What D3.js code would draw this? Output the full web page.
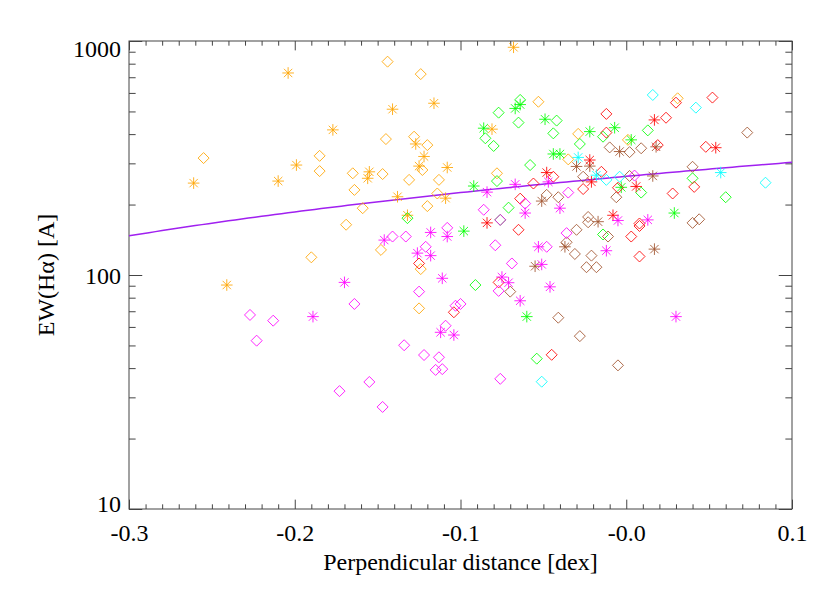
<!DOCTYPE html>
<meta charset="utf-8">
<style>
    body { margin: 0; background: #fff; }
    svg text { font-family: "Liberation Serif", "DejaVu Serif", serif; fill: #000; }
    .ax line { stroke: #444; }
    .ax path { display: none; }
</style>
<svg width="830" height="593"></svg>
<script src="https://cdn.jsdelivr.net/npm/d3@7"></script>
<script>

    // tick labels
    var xTickValues = [-0.3, -0.2, -0.1, 0.0, 0.1];
    var xTickLabels = ["-0.3", "-0.2", "-0.1", "-0.0", "0.1"];
    var yTickValues = [10, 100, 1000];
    var yTickLabels = ["10", "100", "1000"];

    // linear fit EW = a + b * dist
    var fitCoef = [264, 390];

    // [distance, EW] per sample
    var orangeStar = [[-0.204, 730], [-0.177, 417], [-0.199, 295], [-0.261, 247], [-0.210, 252], [-0.241, 90.6],
        [-0.068, 940], [-0.141, 511], [-0.116, 542], [-0.127, 363], [-0.122, 321], [-0.125, 292], [-0.108, 288],
        [-0.155, 276], [-0.156, 259], [-0.138, 216], [-0.109, 213], [-0.132, 180], [-0.081, 420]];
    var orangeDiam = [[-0.255, 316], [-0.185, 323], [-0.185, 278], [-0.165, 272], [-0.169, 164], [-0.190, 119],
        [-0.144, 816], [-0.124, 722], [-0.145, 381], [-0.128, 390], [-0.120, 359], [-0.123, 281], [-0.147, 270],
        [-0.164, 231], [-0.131, 255], [-0.113, 255], [-0.114, 223], [-0.159, 193], [-0.120, 197], [-0.148, 128],
        [-0.124, 106], [-0.125, 72], [-0.078, 272], [-0.053, 550], [-0.035, 312], [-0.029, 401], [0.001, 378],
        [0.031, 569]];
    var greenStar = [[-0.067, 515], [-0.064, 535], [-0.049, 463], [-0.086, 424], [-0.044, 329], [-0.040, 329],
        [-0.092, 240], [-0.098, 154], [-0.060, 66.4], [-0.022, 410], [-0.007, 426], [0.003, 378], [-0.003, 237],
        [0.029, 184]];
    var greenDiam = [[-0.064, 560], [-0.077, 494], [-0.065, 448], [-0.042, 457], [-0.044, 403], [-0.085, 384],
        [-0.080, 356], [-0.058, 295], [-0.078, 252], [-0.071, 194], [-0.076, 172], [-0.132, 175], [-0.091, 90.6],
        [-0.054, 43.9], [-0.014, 390], [-0.028, 363], [0.013, 415], [0.009, 225], [0.040, 259], [0.060, 215],
        [-0.014, 149]];
    var redStar = [[-0.048, 274], [-0.084, 167], [0.017, 460], [0.054, 350], [-0.022, 310], [-0.021, 250],
        [0.006, 239], [-0.008, 180]];
    var redDiam = [[-0.044, 263], [-0.056, 246], [-0.064, 212], [-0.065, 156], [-0.125, 112], [-0.077, 93],
        [-0.104, 69.3], [-0.045, 45.6], [-0.012, 488], [0.030, 545], [0.052, 573], [0.024, 470], [-0.012, 406],
        [0.019, 359], [0.048, 353], [-0.015, 276], [-0.026, 233], [-0.005, 236], [0.028, 223], [0.041, 238],
        [0.008, 166], [0.008, 162], [0.003, 146], [0.008, 120]];
    var brownStar = [[-0.051, 207], [-0.037, 132], [-0.055, 109], [-0.004, 337], [0.018, 353], [-0.030, 291],
        [-0.022, 292], [0.016, 265], [-0.017, 169], [0.017, 129]];
    var brownDiam = [[-0.048, 220], [-0.041, 215], [-0.036, 138], [-0.070, 84.9], [-0.041, 65.7], [0.073, 406],
        [-0.010, 351], [0.002, 335], [0.009, 348], [-0.026, 263], [0.002, 265], [0.040, 290], [-0.006, 215],
        [0.040, 167], [0.044, 173], [-0.023, 177], [-0.023, 168], [-0.011, 146], [-0.030, 156], [-0.031, 123],
        [-0.021, 121], [-0.024, 108], [-0.018, 108], [-0.028, 54.8], [-0.005, 41.1]];
    var magentaStar = [[-0.067, 244], [-0.047, 250], [-0.084, 226], [-0.061, 184], [-0.040, 193], [-0.118, 152],
        [-0.108, 146], [-0.146, 141], [-0.053, 132], [-0.126, 124], [-0.118, 121], [-0.051, 111], [-0.075, 98],
        [-0.111, 96.8], [-0.170, 93], [-0.071, 92.7], [-0.046, 89], [-0.064, 77.6], [-0.112, 56.9], [-0.104, 55.4],
        [-0.189, 66.4], [-0.005, 171], [0.013, 172], [-0.012, 127], [0.030, 66.4]];
    var magentaDiam = [[-0.061, 202], [-0.086, 190], [-0.035, 225], [-0.076, 172], [-0.108, 159], [-0.141, 146],
        [-0.133, 146], [-0.079, 134], [-0.048, 132], [-0.036, 151], [-0.121, 132], [-0.069, 112], [-0.077, 85.5],
        [-0.125, 84.9], [-0.164, 75.2], [-0.103, 73.9], [-0.100, 75.2], [-0.109, 60.7], [-0.134, 50.1],
        [-0.122, 45.5], [-0.113, 44.5], [-0.115, 39.3], [-0.111, 39.6], [-0.076, 36.0], [-0.155, 34.9],
        [-0.173, 31.9], [-0.147, 27.3], [-0.227, 67.5], [-0.213, 63.8], [-0.223, 52.4], [0.005, 266]];
    var cyanStar = [[-0.029, 318], [-0.018, 267], [0.057, 274]];
    var cyanDiam = [[0.016, 588], [0.042, 519], [-0.012, 255], [-0.004, 263], [0.084, 248], [-0.051, 35.0]];

    var groups = [
        { pts: orangeDiam, sym: "diam", color: "#ffa500" },
        { pts: orangeStar, sym: "star", color: "#ffa500" },
        { pts: greenDiam, sym: "diam", color: "#00ff00" },
        { pts: greenStar, sym: "star", color: "#00ff00" },
        { pts: brownDiam, sym: "diam", color: "#a0522d" },
        { pts: brownStar, sym: "star", color: "#a0522d" },
        { pts: redDiam, sym: "diam", color: "#ff0000" },
        { pts: redStar, sym: "star", color: "#ff0000" },
        { pts: magentaDiam, sym: "diam", color: "#ff00ff" },
        { pts: magentaStar, sym: "star", color: "#ff00ff" },
        { pts: cyanDiam, sym: "diam", color: "#00ffff" },
        { pts: cyanStar, sym: "star", color: "#00ffff" }
    ];

    var margin = { left: 129, top: 41, right: 38, bottom: 84 };
    var svg = d3.select("svg");
    var width = 830 - margin.left - margin.right;
    var height = 593 - margin.top - margin.bottom;

    var g = svg.append("g")
        .attr("transform", "translate(" + margin.left + "," + margin.top + ")");

    var x = d3.scaleLinear().domain([-0.3, 0.1]).range([0, width]);
    var y = d3.scaleLog().domain([10, 1000]).range([height, 0]);

    var xMinor = d3.range(-30, 11).map(function (i) { return i / 100; })
        .filter(function (v) { return Math.round(v * 100) % 10 !== 0; });
    var yMinor = [];
    [10, 100].forEach(function (dec) {
        for (var k = 2; k <= 9; k++) yMinor.push(k * dec);
    });

    var xLen = 0.02 * height, yLen = 0.02 * width;

    // x axes (bottom + top mirror)
    g.append("g").attr("class", "ax").attr("transform", "translate(0," + height + ")")
        .call(d3.axisBottom(x).tickValues(xMinor).tickSizeInner(-xLen / 2).tickSizeOuter(0).tickFormat(""));
    g.append("g").attr("class", "ax").attr("transform", "translate(0," + height + ")")
        .call(d3.axisBottom(x).tickValues(xTickValues).tickSizeInner(-xLen).tickSizeOuter(0).tickPadding(15)
            .tickFormat(function (d, i) { return xTickLabels[i]; }))
        .selectAll("text").style("font-size", "24px");
    g.append("g").attr("class", "ax")
        .call(d3.axisTop(x).tickValues(xMinor).tickSizeInner(-xLen / 2).tickSizeOuter(0).tickFormat(""));
    g.append("g").attr("class", "ax")
        .call(d3.axisTop(x).tickValues(xTickValues).tickSizeInner(-xLen).tickSizeOuter(0).tickFormat(""));

    // y axes (left + right mirror)
    g.append("g").attr("class", "ax")
        .call(d3.axisLeft(y).tickValues(yMinor).tickSizeInner(-yLen / 2).tickSizeOuter(0).tickFormat(""));
    var yLabelShift = [2, 8, 15];
    g.append("g").attr("class", "ax")
        .call(d3.axisLeft(y).tickValues(yTickValues).tickSizeInner(-yLen).tickSizeOuter(0).tickPadding(8)
            .tickFormat(function (d, i) { return yTickLabels[i]; }))
        .selectAll("text")
        .style("font-size", "24px")
        .attr("dy", function (d, i) { return yLabelShift[i]; });
    g.append("g").attr("class", "ax").attr("transform", "translate(" + width + ",0)")
        .call(d3.axisRight(y).tickValues(yMinor).tickSizeInner(-yLen / 2).tickSizeOuter(0).tickFormat(""));
    g.append("g").attr("class", "ax").attr("transform", "translate(" + width + ",0)")
        .call(d3.axisRight(y).tickValues(yTickValues).tickSizeInner(-yLen).tickSizeOuter(0).tickFormat(""));

    g.append("rect")
        .attr("width", width).attr("height", height)
        .attr("fill", "none").attr("stroke", "#444").attr("stroke-width", 1);

    // fit line
    var fitX = d3.range(0, 101).map(function (i) { return -0.3 + i * 0.004; });
    g.append("path")
        .datum(fitX)
        .attr("fill", "none")
        .attr("stroke", "#a020f0")
        .attr("stroke-width", 1.5)
        .attr("d", d3.line()
            .x(function (d) { return x(d); })
            .y(function (d) { return y(fitCoef[0] + fitCoef[1] * d); }));

    // markers
    var r = 5.5;
    var diamond = "M0," + (-r) + "L" + r + ",0L0," + r + "L" + (-r) + ",0Z";
    var s = 5.8, t = s * 0.72;
    var star = "M" + (-s) + ",0H" + s + "M0," + (-s) + "V" + s +
        "M" + (-t) + "," + (-t) + "L" + t + "," + t + "M" + (-t) + "," + t + "L" + t + "," + (-t);

    groups.forEach(function (grp) {
        g.append("g").selectAll("path")
            .data(grp.pts)
            .enter().append("path")
            .attr("transform", function (d) { return "translate(" + x(d[0]) + "," + y(d[1]) + ")"; })
            .attr("d", grp.sym === "diam" ? diamond : star)
            .attr("fill", "none")
            .attr("stroke", grp.color)
            .attr("stroke-width", 1)
            .attr("stroke-opacity", 0.85);
    });

    // titles
    svg.append("text")
        .attr("x", margin.left + width / 2)
        .attr("y", 570)
        .attr("text-anchor", "middle")
        .style("font-size", "24px")
        .text("Perpendicular distance [dex]");

    svg.append("text")
        .attr("transform", "translate(54," + (margin.top + height / 2) + ") rotate(-90)")
        .attr("text-anchor", "middle")
        .style("font-size", "24px")
        .text("EW(Hα) [A]");

</script>
